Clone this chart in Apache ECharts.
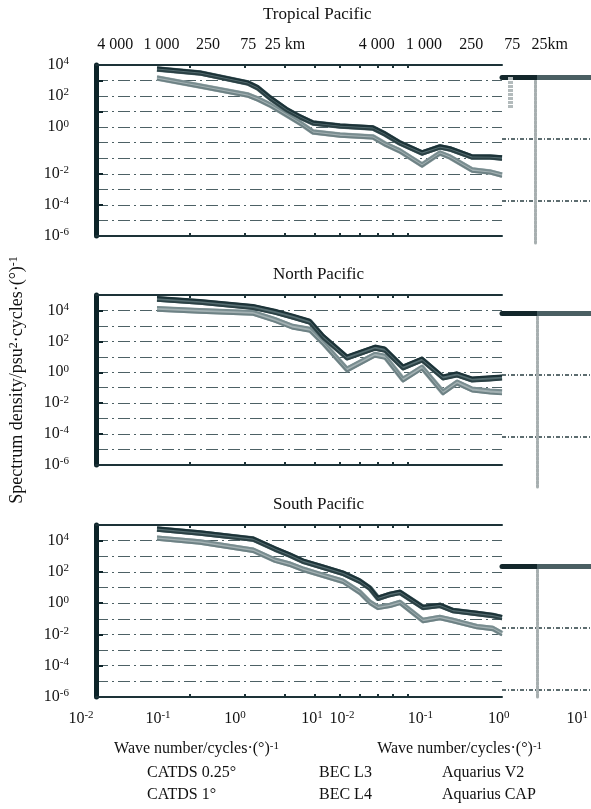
<!DOCTYPE html>
<html><head><meta charset="utf-8">
<script src="https://cdn.jsdelivr.net/npm/echarts@6/dist/echarts.min.js"></script>
<style>html,body{margin:0;padding:0;background:#fff}#c{width:591px;height:809px}</style>
</head><body><div id="c"></div>
<script>
// ---------------- DATA ----------------
const seriesNames = ['CATDS 0.25°', 'CATDS 1°', 'BEC L3', 'BEC L4', 'Aquarius V2', 'Aquarius CAP'];
const panelTitles = ['Tropical Pacific', 'North Pacific', 'South Pacific'];

// x: log10 wave number (cycles/deg), y: log10 spectrum density
const tropicalLogK = [-1.013, -0.455, 0.169, 0.299, 0.455, 0.675, 0.844, 1.013, 1.364, 1.792, 1.948, 2.143, 2.429, 2.662, 2.792, 3.078, 3.312, 3.468];
const tropicalCATDS025 = [3.84, 3.58, 2.94, 2.63, 1.99, 1.22, 0.76, 0.36, 0.17, 0.05, -0.34, -0.92, -1.55, -1.17, -1.30, -1.81, -1.83, -1.88];
const tropicalBECL3 = [3.74, 3.49, 2.84, 2.52, 1.88, 1.11, 0.66, 0.27, 0.08, -0.05, -0.44, -1.02, -1.66, -1.27, -1.40, -1.92, -1.92, -1.98];
const tropicalAquariusV2 = [3.65, 3.39, 2.74, 2.41, 1.77, 1.01, 0.56, 0.18, -0.02, -0.15, -0.54, -1.12, -1.77, -1.38, -1.50, -2.02, -2.02, -2.09];
const tropicalCATDS1 = [3.26, 2.75, 2.17, 1.92, 1.54, 0.88, 0.37, -0.21, -0.40, -0.53, -0.98, -1.42, -2.32, -1.56, -1.81, -2.64, -2.78, -2.97];
const tropicalBECL4 = [3.16, 2.65, 2.07, 1.81, 1.43, 0.78, 0.27, -0.31, -0.50, -0.63, -1.08, -1.53, -2.43, -1.66, -1.92, -2.75, -2.88, -3.08];
const tropicalAquariusCAP = [3.06, 2.55, 1.96, 1.70, 1.32, 0.68, 0.17, -0.41, -0.61, -0.73, -1.18, -1.64, -2.54, -1.76, -2.02, -2.86, -2.98, -3.19];

const northLogK = [-1.013, -0.455, 0.234, 0.519, 0.753, 0.974, 1.143, 1.455, 1.818, 1.948, 2.182, 2.429, 2.701, 2.883, 3.078, 3.312, 3.468];
const northCATDS025 = [4.86, 4.67, 4.35, 4.04, 3.72, 3.39, 2.44, 1.08, 1.72, 1.59, 0.44, 0.95, -0.21, -0.01, -0.34, -0.27, -0.22];
const northBECL3 = [4.74, 4.55, 4.23, 3.91, 3.59, 3.26, 2.30, 0.95, 1.59, 1.46, 0.31, 0.82, -0.34, -0.14, -0.47, -0.40, -0.34];
const northAquariusV2 = [4.62, 4.43, 4.10, 3.78, 3.46, 3.13, 2.17, 0.82, 1.46, 1.33, 0.18, 0.69, -0.47, -0.27, -0.60, -0.53, -0.47];
const northCATDS1 = [4.22, 4.09, 3.96, 3.51, 3.07, 2.88, 2.04, 0.31, 1.27, 1.14, -0.34, 0.44, -1.17, -0.53, -0.98, -1.11, -1.17];
const northBECL4 = [4.10, 3.97, 3.84, 3.39, 2.94, 2.75, 1.91, 0.18, 1.14, 1.01, -0.47, 0.31, -1.30, -0.66, -1.11, -1.24, -1.30];
const northAquariusCAP = [3.98, 3.85, 3.72, 3.26, 2.81, 2.62, 1.78, 0.05, 1.01, 0.88, -0.60, 0.18, -1.43, -0.79, -1.24, -1.37, -1.43];

const southLogK = [-1.013, -0.455, 0.234, 0.519, 0.714, 0.883, 1.143, 1.403, 1.623, 1.753, 1.857, 2.013, 2.143, 2.442, 2.662, 2.831, 3.143, 3.351, 3.468];
const southCATDS025 = [4.84, 4.59, 4.20, 3.57, 3.18, 2.79, 2.41, 2.02, 1.51, 1.06, 0.42, 0.67, 0.80, -0.17, -0.04, -0.37, -0.56, -0.69, -0.82];
const southBECL3 = [4.74, 4.49, 4.10, 3.46, 3.07, 2.68, 2.30, 1.91, 1.40, 0.95, 0.31, 0.56, 0.69, -0.27, -0.14, -0.47, -0.66, -0.79, -0.92];
const southAquariusV2 = [4.63, 4.38, 4.00, 3.36, 2.96, 2.58, 2.19, 1.80, 1.29, 0.84, 0.20, 0.45, 0.58, -0.38, -0.25, -0.58, -0.77, -0.90, -1.03];
const southCATDS1 = [4.27, 4.02, 3.50, 2.86, 2.60, 2.28, 1.89, 1.51, 0.80, 0.16, -0.16, -0.03, 0.16, -1.00, -0.81, -1.00, -1.39, -1.51, -1.84];
const southBECL4 = [4.16, 3.91, 3.39, 2.75, 2.49, 2.17, 1.78, 1.40, 0.69, 0.05, -0.27, -0.14, 0.05, -1.11, -0.92, -1.11, -1.50, -1.62, -1.95];
const southAquariusCAP = [4.05, 3.80, 3.28, 2.64, 2.38, 2.06, 1.67, 1.29, 0.58, -0.06, -0.38, -0.25, -0.06, -1.22, -1.03, -1.22, -1.61, -1.73, -2.06];

// tick labels
const bottomTickExp = [-2, -1, 0, 1];
const topKm = [4000, 1000, 250, 75, 25];
const topKmTextLeft = ['4 000', '1 000', '250', '75', '25 km'];
const topKmTextRight = ['4 000', '1 000', '250', '75', '25km'];
const yLabelExp = [4, 2, 0, -2, -4, -6];
const tropicalYLabelAt = [4, 2, 0, -3, -5, -7];
const regularYLabelAt = [4, 2, 0, -2, -4, -6];
const tropicalYTickAt = [3, 1, -3, -5];
const regularYTickAt = [4, 2, 0, -2, -4];
const boxMinorTickAt = [-0.584, 0.130, 0.649, 1.039, 1.364, 1.623, 1.857, 2.052, 2.247];

// ---------------- LAYOUT / STYLE ----------------
const FONT = 'Liberation Serif';
const KM_PER_DEG = 111.2;
const SUB_L = {left: 81, width: 231};
const SUB_R = {left: 342, width: 240};
const BOX_L = 96, BOX_R = 502;
const XMIN = -2 + (BOX_L - SUB_L.left) * 3 / SUB_L.width;
const XMAX = -2 + (BOX_R - SUB_L.left) * 3 / SUB_L.width;
const FRAME = '#1d3338';
const GRIDC = '#4d6165';

const panelData = [
  {x: tropicalLogK, s: {'CATDS 0.25°': tropicalCATDS025, 'BEC L3': tropicalBECL3, 'Aquarius V2': tropicalAquariusV2, 'CATDS 1°': tropicalCATDS1, 'BEC L4': tropicalBECL4, 'Aquarius CAP': tropicalAquariusCAP}},
  {x: northLogK, s: {'CATDS 0.25°': northCATDS025, 'BEC L3': northBECL3, 'Aquarius V2': northAquariusV2, 'CATDS 1°': northCATDS1, 'BEC L4': northBECL4, 'Aquarius CAP': northAquariusCAP}},
  {x: southLogK, s: {'CATDS 0.25°': southCATDS025, 'BEC L3': southBECL3, 'Aquarius V2': southAquariusV2, 'CATDS 1°': southCATDS1, 'BEC L4': southBECL4, 'Aquarius CAP': southAquariusCAP}}
];
const panels = [
  {top: 65, h: 171, ymin: -7, ymax: 4, labelAt: tropicalYLabelAt, tickAt: tropicalYTickAt, titleLeft: 263, titleTop: 6,
   strip: {top: 77, bottom: 243, gap: 62, vx: 33, stub: true}},
  {top: 295, h: 170, ymin: -6, ymax: 5, labelAt: regularYLabelAt, tickAt: regularYTickAt, titleLeft: 273, titleTop: 266,
   strip: {top: 313, bottom: 487, gap: 62, vx: 35, stub: false}},
  {top: 525, h: 172, ymin: -6, ymax: 5, labelAt: regularYLabelAt, tickAt: regularYTickAt, titleLeft: 273, titleTop: 496,
   strip: {top: 566, bottom: 698, gap: 62, vx: 35, stub: false}}
];
const seriesStyle = {
  'BEC L4':       {color: '#a3b1b3', width: 5.5, z: 2},
  'CATDS 1°':     {color: '#798d90', width: 2, z: 3},
  'Aquarius CAP': {color: '#6e8285', width: 2, z: 3},
  'BEC L3':       {color: '#566d71', width: 5.5, z: 4},
  'CATDS 0.25°':  {color: '#1c3338', width: 2.2, z: 5},
  'Aquarius V2':  {color: '#2b4145', width: 2, z: 5}
};
const drawOrder = ['BEC L4', 'CATDS 1°', 'Aquarius CAP', 'BEC L3', 'CATDS 0.25°', 'Aquarius V2'];

const rich = {
  b: {fontFamily: FONT, fontSize: 16, color: '#111', lineHeight: 18},
  s: {fontFamily: FONT, fontSize: 11, color: '#111', verticalAlign: 'top', lineHeight: 12}
};
const pow10 = e => '{b|10}{s|' + e + '}';

const grid = [], xAxis = [], yAxis = [], series = [], title = [];

panels.forEach((p, i) => {
  grid.push({left: BOX_L, width: BOX_R - BOX_L, top: p.top, height: p.h});
  title.push({text: panelTitles[i], left: p.titleLeft, top: p.titleTop, padding: 0,
    textStyle: {fontFamily: FONT, fontSize: 17, fontWeight: 'normal', color: '#111'}});
});
panels.forEach((p, i) => {
  grid.push({left: BOX_R, right: 0, top: p.strip.top, height: p.strip.bottom - p.strip.top});
});
grid.push({left: SUB_L.left, width: SUB_L.width, top: 65, height: 632});
grid.push({left: SUB_R.left, width: SUB_R.width, top: 65, height: 632});

// box axes: x 0..5, y 0..2 (frame + grid lines), y 3..5 (ticks + labels)
panels.forEach((p, i) => {
  ['bottom', 'top'].forEach(pos => {
    xAxis.push({gridIndex: i, type: 'value', position: pos, min: XMIN, max: XMAX,
      axisLine: {show: true, onZero: false, lineStyle: {color: FRAME, width: 2}},
      axisTick: {show: true, inside: true, length: 3, customValues: boxMinorTickAt, lineStyle: {color: FRAME, width: 2}},
      axisLabel: {show: false}, splitLine: {show: false}});
  });
  yAxis.push({gridIndex: i, type: 'value', position: 'left', min: p.ymin, max: p.ymax, interval: 1,
    axisLine: {show: true, onZero: false, lineStyle: {color: '#0c2328', width: 5}},
    axisTick: {show: false}, axisLabel: {show: false},
    splitLine: {show: true, showMinLine: false, showMaxLine: false, lineStyle: {color: GRIDC, width: 1, type: [12, 4, 2, 4]}},
    name: i === 1 ? 'Spectrum density/psu{s|2}·cycles·(°){s|-1}' : '',
    nameLocation: 'middle', nameGap: 70, nameRotate: 90,
    nameTextStyle: {fontFamily: FONT, fontSize: 18, color: '#111', rich: {
      s: {fontFamily: FONT, fontSize: 12, color: '#111', verticalAlign: 'top', lineHeight: 12}}}
  });
});
panels.forEach((p, i) => {
  yAxis.push({gridIndex: i, type: 'value', position: 'left', min: p.ymin, max: p.ymax, interval: 1,
    axisLine: {show: false, onZero: false},
    axisTick: {show: true, inside: true, length: 7, customValues: p.tickAt, lineStyle: {color: '#0c2328', width: 2}},
    splitLine: {show: false},
    axisLabel: {show: true, margin: 27, customValues: p.labelAt, rich: rich,
      formatter: v => { const k = p.labelAt.indexOf(v); return k < 0 ? '' : pow10(yLabelExp[k]); }}});
});
// strip axes: x 6..8, y 6..8
panels.forEach((p, i) => {
  const sx = p.strip;
  xAxis.push({gridIndex: 3 + i, type: 'value', position: 'top', min: 0, max: 1,
    axisLine: {show: true, onZero: false, lineStyle: {width: 5, color: {type: 'linear', x: 0, y: 0, x2: 1, y2: 0,
      colorStops: [{offset: 0, color: '#13272b'}, {offset: 0.4, color: '#13272b'}, {offset: 0.4, color: '#4a5f63'}, {offset: 1, color: '#4a5f63'}]}}},
    axisTick: {show: sx.stub, inside: true, length: 32, customValues: [0.09], lineStyle: {color: '#b3bbbc', width: 5, type: [3, 1]}},
    axisLabel: {show: false}, splitLine: {show: false}});
  yAxis.push({gridIndex: 3 + i, type: 'value', inverse: true, min: 0, max: (sx.bottom - sx.top) / sx.gap, interval: 1,
    position: 'left', offset: -sx.vx,
    axisLine: {show: true, onZero: false, lineStyle: {color: '#a7afb0', width: 3, type: [3, 1]}},
    axisTick: {show: false}, axisLabel: {show: false},
    splitLine: {show: true, showMinLine: false, showMaxLine: false, lineStyle: {color: '#5d6d70', width: 2, type: [4, 2, 1, 2]}}});
});
// label-only sub axes (two half-panels)
const kmAt = topKm.map(km => Math.log10(KM_PER_DEG / km));
[[6, topKmTextLeft], [7, topKmTextRight]].forEach(([g, texts]) => {
  xAxis.push({gridIndex: g, type: 'value', position: 'bottom', min: -2, max: 1,
    axisLine: {show: false, onZero: false}, axisTick: {show: false}, splitLine: {show: false},
    axisLabel: {show: true, margin: 13, customValues: bottomTickExp, rich: rich, formatter: v => pow10(v)},
    name: 'Wave number/cycles·(°){s|-1}', nameLocation: 'middle', nameGap: 44,
    nameTextStyle: {fontFamily: FONT, fontSize: 16, color: '#111', rich: {
      s: {fontFamily: FONT, fontSize: 11, color: '#111', verticalAlign: 'top', lineHeight: 12}}}});
  xAxis.push({gridIndex: g, type: 'value', position: 'top', min: -2, max: 1,
    axisLine: {show: false, onZero: false}, axisTick: {show: false}, splitLine: {show: false},
    axisLabel: {show: true, margin: 12, customValues: kmAt, fontFamily: FONT, fontSize: 16, color: '#111',
      formatter: v => { const k = kmAt.findIndex(a => Math.abs(a - v) < 1e-3); return k < 0 ? '' : texts[k]; }}});
  yAxis.push({gridIndex: g, type: 'value', show: false});
});

// series
panelData.forEach((pd, i) => {
  drawOrder.forEach(name => {
    const st = seriesStyle[name];
    series.push({type: 'line', name: name, xAxisIndex: i * 2, yAxisIndex: i,
      data: pd.x.map((x, j) => [x, pd.s[name][j]]),
      showSymbol: false, symbol: 'none', silent: true, z: st.z,
      lineStyle: {color: st.color, width: st.width, join: 'round'},
      itemStyle: {color: st.color}});
  });
});

// legend: 3 columns x 2 rows, no visible symbols
const legendCols = [141, 313, 436];
const legendRows = [765, 787];
const legendLayout = [['CATDS 0.25°', 'CATDS 1°'], ['BEC L3', 'BEC L4'], ['Aquarius V2', 'Aquarius CAP']];
const legend = [];
legendLayout.forEach((col, c) => col.forEach((name, r) => {
  legend.push({left: legendCols[c], top: legendRows[r], padding: 0, itemWidth: 0, itemHeight: 0, selectedMode: false,
    itemStyle: {opacity: 0}, lineStyle: {opacity: 0}, data: [name],
    textStyle: {fontFamily: FONT, fontSize: 16, color: '#111'}});
}));

const chart = echarts.init(document.getElementById('c'), null, {renderer: 'canvas'});
chart.setOption({
  animation: false,
  backgroundColor: '#fff',
  textStyle: {fontFamily: FONT},
  title: title, legend: legend, grid: grid, xAxis: xAxis, yAxis: yAxis, series: series
});
</script></body></html>
